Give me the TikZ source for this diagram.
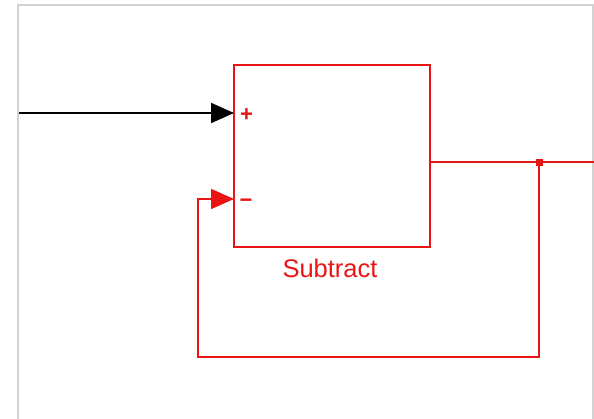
\documentclass[tikz,border=0pt]{standalone}
\usepackage{fontspec}
\setmainfont{Liberation Sans}
\usetikzlibrary{arrows.meta}
\definecolor{simred}{RGB}{235,20,20}
\definecolor{framegray}{RGB}{210,210,210}
\tikzset{
  blockbox/.style={draw=simred, line width=1.6pt, minimum width=196pt, minimum height=182pt, inner sep=0pt},
  sigline/.style={line width=1.6pt},
  tipar/.style={-{Triangle[length=23pt,width=20pt]}},
  portlbl/.style={text=simred, font=\fontsize{22}{22}\selectfont\bfseries, inner sep=0pt},
}
\begin{document}
\begin{tikzpicture}[x=1pt,y=-1pt]
\useasboundingbox (0,0) rectangle (594,418);
\fill[white] (0,0) rectangle (594,418);
\draw[framegray, line width=1.2pt] (18,420) -- (18,5) -- (593,5) -- (593,420);
\node[blockbox] (sub) at (332,156) {};
\node[text=simred, font=\fontsize{25.5}{25.5}\selectfont] (lbl) at (330,268) {Subtract};
\coordinate (inp) at (19,113);
\coordinate (pplus) at (234,113);
\coordinate (pminus) at (234,199);
\coordinate (outR) at (594,162);
\coordinate (br) at (539,162);
\coordinate (c1) at (539,357);
\coordinate (c2) at (198,357);
\coordinate (c3) at (198,199);
\node[portlbl, anchor=center] (plus) at (246.5,115) {+};
\node[portlbl, anchor=center] (minus) at (246,203) {−};
\draw[sigline, black, line width=2pt, tipar] (inp) -- (pplus);
\draw[sigline, simred] (sub.east |- outR) -- (outR);
\fill[simred] (br) ++(-3.5,-3.5) rectangle ++(7,7);
\draw[sigline, simred, tipar] (br) -- (c1) -- (c2) -- (c3) -- (pminus);
\end{tikzpicture}
\end{document}
